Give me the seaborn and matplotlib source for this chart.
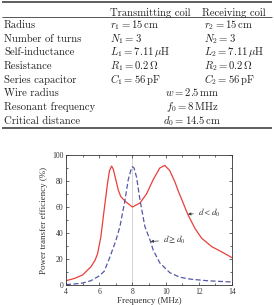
import matplotlib
matplotlib.use("Agg")
import pandas as pd
import matplotlib.pyplot as plt
from matplotlib.ticker import MultipleLocator
import seaborn as sns

# Tabelle: Parameter der Spulen
header = ["Transmitting coil", "Receiving coil"]
row_labels = ["Radius", "Number of turns", "Self-inductance", "Resistance",
              "Series capacitor", "Wire radius", "Resonant frequency", "Critical distance"]
tx_values = [r"$r_1 = 15\,\mathrm{cm}$", r"$N_1 = 3$", r"$L_1 = 7.11\,\mu\mathrm{H}$",
             r"$R_1 = 0.2\,\Omega$", r"$C_1 = 56\,\mathrm{pF}$"]
rx_values = [r"$r_2 = 15\,\mathrm{cm}$", r"$N_2 = 3$", r"$L_2 = 7.11\,\mu\mathrm{H}$",
             r"$R_2 = 0.2\,\Omega$", r"$C_2 = 56\,\mathrm{pF}$"]
shared_values = [r"$w = 2.5\,\mathrm{mm}$", r"$f_0 = 8\,\mathrm{MHz}$",
                 r"$d_0 = 14.5\,\mathrm{cm}$"]

# Kurven
freq_near = [4.0, 4.5, 5.0, 5.5, 5.75, 5.9, 6.1, 6.3, 6.5, 6.62, 6.75, 6.85, 7.0,
             7.15, 7.3, 7.6, 8.0, 8.45, 8.85, 9.25, 9.65, 9.95, 10.25, 10.57, 10.8,
             11.0, 11.2, 11.37, 11.77, 12.17, 12.78, 13.38, 14.0]
eff_near = [3.3, 5.0, 7.7, 14, 19, 24, 37, 58, 78, 88, 91.5, 89, 81,
            73, 68, 64, 60, 63, 70, 81, 90, 92, 88, 79, 71,
            65, 58.5, 53.5, 43.5, 36, 29.5, 25.5, 21]
freq_far = [4.0, 4.5, 5.0, 5.5, 6.0, 6.3, 6.6, 6.8, 7.0, 7.25, 7.55, 7.75, 7.9, 8.0,
            8.1, 8.25, 8.45, 8.75, 9.05, 9.25, 9.65, 10.25, 10.85, 11.5, 12.5, 14.0]
eff_far = [0.3, 0.8, 1.5, 3.3, 7, 10.5, 20, 27, 34, 45, 65, 81, 88, 91,
           90, 83, 66, 45, 35, 27, 17, 9.5, 6, 4.5, 3.3, 2.3]

sns.set_theme(style="ticks")
plt.rcParams['font.family'] = ['Liberation Serif', 'DejaVu Serif']

W, H = 274, 305
TAB_H = 131
fig = plt.figure(figsize=(W / 100, H / 100), dpi=100)

# Tabelle: eigene Achse in Pixelkoordinaten
tab = fig.add_axes([0, 1 - TAB_H / H, 1, TAB_H / H])
tab.set_xlim(0, W)
tab.set_ylim(TAB_H, 0)
tab.axis('off')
tfont = dict(family=['cmr10', 'DejaVu Serif'], fontsize=7.7, math_fontfamily='cm',
             color='#222222', va='baseline')
tab.plot([2, 272], [1.8, 1.8], color='#333333', lw=1.1, solid_capstyle='butt')
tab.plot([2, 272], [16.7, 16.7], color='#555555', lw=0.7, solid_capstyle='butt')
tab.plot([2, 272], [127.5, 127.5], color='#333333', lw=1.1, solid_capstyle='butt')
tab.text(110, 15.5, header[0], **tfont)
tab.text(202, 15.5, header[1], **tfont)
for i, lab in enumerate(row_labels):
    yb = 25 + 13.7 * i + 3
    tab.text(4, yb, lab, **tfont)
    if i < len(tx_values):
        tab.text(110, yb, tx_values[i], **tfont)
        tab.text(204, yb, rx_values[i], **tfont)
    else:
        tab.text(192, yb, shared_values[i - len(tx_values)], ha='center', **tfont)

# Diagramm
ax = fig.add_axes([66 / W, 20 / H, 166 / W, 130 / H])
df_near = pd.DataFrame({"f": freq_near, "eta": eff_near})
df_far = pd.DataFrame({"f": freq_far, "eta": eff_far})
ax.axvline(8, color='#cccccc', lw=0.6, zorder=0)
sns.lineplot(data=df_near, x="f", y="eta", ax=ax, color='#e8403a', lw=0.9)
sns.lineplot(data=df_far, x="f", y="eta", ax=ax, color='#5558a8', lw=0.9,
             linestyle=(0, (4, 2)))

ax.set_xlim(4, 14)
ax.set_ylim(0, 100)
ax.xaxis.set_major_locator(MultipleLocator(2))
ax.xaxis.set_minor_locator(MultipleLocator(1))
ax.yaxis.set_major_locator(MultipleLocator(20))
ax.yaxis.set_minor_locator(MultipleLocator(10))
ax.tick_params(which='both', direction='in', top=True, right=True, labelsize=5.5,
               colors='#333333', width=0.5)
ax.tick_params(which='major', length=2.5, pad=2)
ax.tick_params(which='minor', length=1.5)
for s in ax.spines.values():
    s.set_linewidth(0.6)
    s.set_color('#333333')
ax.set_xlabel("Frequency (MHz)", fontsize=6.5, labelpad=1, color='#333333')
ax.set_ylabel("Power transfer efficiency (%)", fontsize=6.5, labelpad=3, color='#333333')

arrow = dict(arrowstyle='-|>', color='#333333', lw=0.5, mutation_scale=4,
             shrinkA=1, shrinkB=0)
ax.annotate(r"$d < d_0$", xy=(11.35, 54.5), xytext=(11.95, 55.6), va='center',
            fontsize=6.5, math_fontfamily='stix', color='#333333', arrowprops=arrow)
ax.annotate(r"$d \geq d_0$", xy=(9.1, 33.5), xytext=(9.85, 34.6), va='center',
            fontsize=6.5, math_fontfamily='stix', color='#333333', arrowprops=arrow)

fig.savefig("out.png", dpi=100)
